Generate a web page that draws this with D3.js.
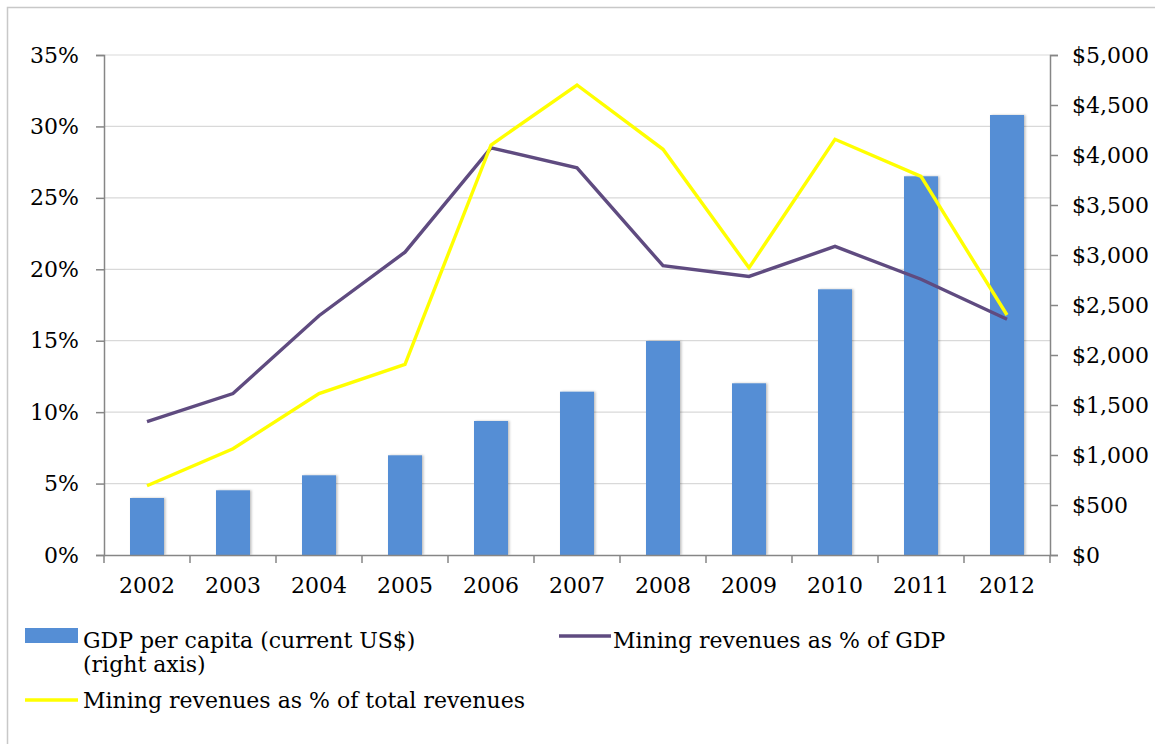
<!DOCTYPE html>
<html>
<head>
<meta charset="utf-8">
<script src="https://cdn.jsdelivr.net/npm/d3@7"></script>
<style>
  body { margin: 0; background: #fff; }
  text { font-family: "DejaVu Serif", "Liberation Serif", serif; fill: #000; }
</style>
</head>
<body>
<div id="chart"></div>
<script>
// Chart data
// ==========
var years = ["2002", "2003", "2004", "2005", "2006", "2007", "2008", "2009", "2010", "2011", "2012"];
var gdpPerCapita = [570, 647, 797, 997, 1340, 1633, 2140, 1717, 2657, 3787, 4400];
var miningPctGdp = [9.33, 11.3, 16.75, 21.2, 28.5, 27.1, 20.25, 19.5, 21.6, 19.3, 16.5];
var miningPctRevenues = [4.85, 7.44, 11.3, 13.35, 28.7, 32.9, 28.4, 20.1, 29.1, 26.5, 16.8];
var leftTicks = [0, 5, 10, 15, 20, 25, 30, 35];
var rightTicks = [0, 500, 1000, 1500, 2000, 2500, 3000, 3500, 4000, 4500, 5000];

// SVG dimensions
var svgWidth = 1155;
var svgHeight = 744;

var margin = { top: 55, right: 105, bottom: 189, left: 104 };
var chartWidth = svgWidth - margin.left - margin.right;
var chartHeight = svgHeight - margin.top - margin.bottom;

var svg = d3.select("#chart")
    .append("svg")
    .attr("width", svgWidth)
    .attr("height", svgHeight);

// outer frame (left and top only are visible)
svg.append("path")
    .attr("d", "M7.5,744 L7.5,7.5 L1155,7.5")
    .attr("fill", "none")
    .attr("stroke", "#c8c8c8")
    .attr("stroke-width", 1.5);

var chartGroup = svg.append("g")
    .attr("transform", `translate(${margin.left}, ${margin.top})`);

// Scales
var xPoint = d3.scaleBand().domain(years).range([0, chartWidth]);
var yLeft = d3.scaleLinear().domain([0, 35]).range([chartHeight, 0]);
var yRight = d3.scaleLinear().domain([0, 5000]).range([chartHeight, 0]);

// Gridlines
chartGroup.append("g")
    .selectAll("line")
    .data(leftTicks.slice(1))
    .enter()
    .append("line")
    .attr("x1", 0)
    .attr("x2", chartWidth)
    .attr("y1", d => yLeft(d))
    .attr("y2", d => yLeft(d))
    .attr("stroke", "#d9d9d9")
    .attr("stroke-width", 1.2);

// Bars
var defs = svg.append("defs");
var shadow = defs.append("filter").attr("id", "shadow").attr("x", "-20%").attr("width", "140%");
shadow.append("feDropShadow")
    .attr("dx", 1.5).attr("dy", 0).attr("stdDeviation", 1.2)
    .attr("flood-color", "#000").attr("flood-opacity", 0.25);

chartGroup.append("g")
    .selectAll("rect")
    .data(gdpPerCapita)
    .enter()
    .append("rect")
    .attr("x", (d, i) => xPoint(years[i]) + xPoint.bandwidth() / 2 - 17)
    .attr("width", 34)
    .attr("y", d => yRight(d))
    .attr("height", d => chartHeight - yRight(d))
    .attr("fill", "#558ed5")
    .attr("filter", "url(#shadow)");

// Lines
var lineGen = d3.line()
    .x((d, i) => xPoint(years[i]) + xPoint.bandwidth() / 2)
    .y(d => yLeft(d));

chartGroup.append("path")
    .datum(miningPctGdp)
    .attr("d", lineGen)
    .attr("fill", "none")
    .attr("stroke", "#5f4b80")
    .attr("stroke-width", 3.4);

chartGroup.append("path")
    .datum(miningPctRevenues)
    .attr("d", lineGen)
    .attr("fill", "none")
    .attr("stroke", "#ffff00")
    .attr("stroke-width", 3.4);

// Axes
var axisColor = "#868686";

var leftAxis = d3.axisLeft(yLeft).tickValues(leftTicks).tickSize(8).tickPadding(17).tickFormat(d => d + "%");
var lAxis = chartGroup.append("g").call(leftAxis);

var rightAxis = d3.axisRight(yRight).tickValues(rightTicks).tickSize(8).tickPadding(14)
    .tickFormat(d => "$" + d3.format(",")(d));
var rAxis = chartGroup.append("g")
    .attr("transform", `translate(${chartWidth}, 0)`)
    .call(rightAxis);

var bottomAxis = d3.axisBottom(xPoint).tickSize(0).tickPadding(22);
var bAxis = chartGroup.append("g")
    .attr("transform", `translate(0, ${chartHeight})`)
    .call(bottomAxis);

// category boundary ticks
chartGroup.append("g")
    .selectAll("line")
    .data(d3.range(years.length + 1))
    .enter()
    .append("line")
    .attr("x1", d => d * xPoint.step())
    .attr("x2", d => d * xPoint.step())
    .attr("y1", chartHeight)
    .attr("y2", chartHeight + 8)
    .attr("stroke", axisColor)
    .attr("stroke-width", 1.5);

[lAxis, rAxis, bAxis].forEach(a => {
    a.selectAll("path, line").attr("stroke", axisColor).attr("stroke-width", 1.5);
    a.selectAll("text")
        .style("font-family", '"DejaVu Serif", serif')
        .style("font-size", "22px")
        .attr("fill", "#000");
});

// Legend
var legend = svg.append("g").style("font-size", "22px");

legend.append("rect")
    .attr("x", 25).attr("y", 628).attr("width", 53).attr("height", 15)
    .attr("fill", "#558ed5");
legend.append("text").attr("x", 83).attr("y", 648).text("GDP per capita (current US$)");
legend.append("text").attr("x", 83).attr("y", 672).text("(right axis)");

legend.append("line")
    .attr("x1", 559).attr("x2", 611).attr("y1", 636).attr("y2", 636)
    .attr("stroke", "#5f4b80").attr("stroke-width", 3.4);
legend.append("text").attr("x", 613).attr("y", 648).text("Mining revenues as % of GDP");

legend.append("line")
    .attr("x1", 25).attr("x2", 78).attr("y1", 700).attr("y2", 700)
    .attr("stroke", "#ffff00").attr("stroke-width", 3.4);
legend.append("text").attr("x", 83).attr("y", 708).text("Mining revenues as % of total revenues");
</script>
</body>
</html>
